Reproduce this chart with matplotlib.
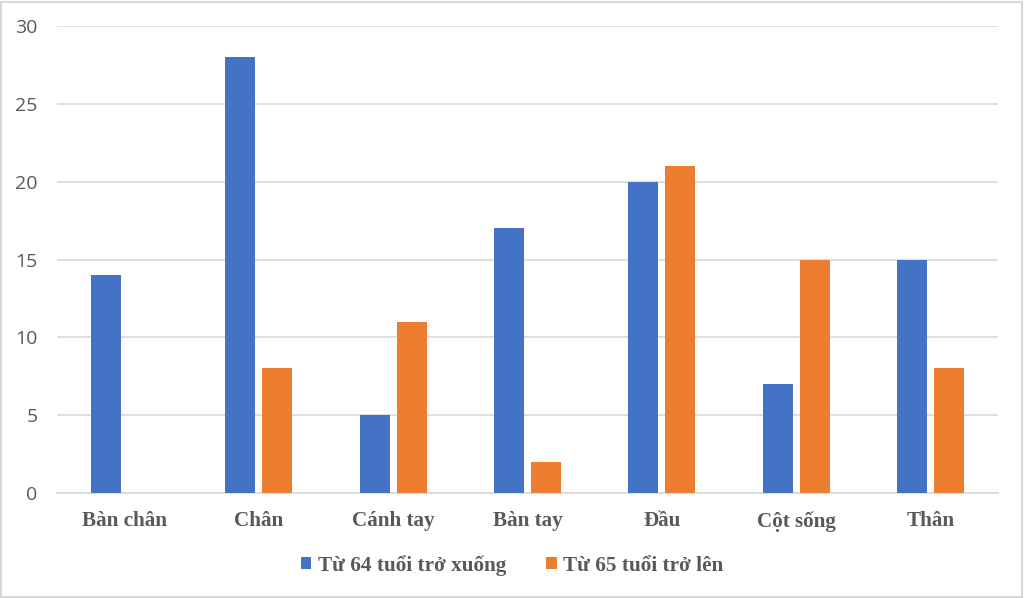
import numpy as np
import matplotlib.pyplot as plt
from matplotlib.patches import Rectangle

categories = ['Bàn chân', 'Chân', 'Cánh tay', 'Bàn tay', 'Đầu', 'Cột sống', 'Thân']
young = [14, 28, 5, 17, 20, 7, 15]
old = [0, 8, 11, 2, 21, 15, 8]
series_names = ['Từ 64 tuổi trở xuống', 'Từ 65 tuổi trở lên']

blue = '#4472c4'
orange = '#ed7d31'
grey_text = '#595959'
grid_col = '#d9d9d9'


def main():
    fig = plt.figure(figsize=(10.24, 5.98), dpi=100)
    ax = fig.add_axes([0.0557, 0.1756, 0.9189, 0.7809])

    x = np.arange(len(categories))
    w = 0.223
    gap = 0.052
    ax.bar(x - (w + gap) / 2, young, w, color=blue, label=series_names[0], zorder=3)
    ax.bar(x + (w + gap) / 2, old, w, color=orange, label=series_names[1], zorder=3)

    ax.set_xlim(-0.5, len(categories) - 0.5)
    ax.set_ylim(0, 30)
    ax.set_yticks(range(0, 31, 5))
    ax.yaxis.grid(True, color=grid_col, linewidth=1.2, zorder=0)
    ax.set_axisbelow(True)
    for s in ['top', 'right', 'left']:
        ax.spines[s].set_visible(False)
    ax.spines['bottom'].set_color(grid_col)
    ax.spines['bottom'].set_linewidth(1.2)
    ax.tick_params(axis='both', length=0)
    ax.tick_params(axis='y', labelsize=14, labelcolor=grey_text, pad=14)

    ax.set_xticks(x)
    ax.set_xticklabels(categories, family='Liberation Serif', fontweight='bold',
                       fontsize=15.2, color=grey_text)
    ax.tick_params(axis='x', pad=13)
    for lbl in ax.get_yticklabels():
        lbl.set_family('Open Sans')

    leg = fig.legend(loc='center', bbox_to_anchor=(0.5, 0.055), ncol=2, frameon=False,
                     handlelength=0.5, handleheight=0.5, handletextpad=0.3,
                     columnspacing=1.9,
                     prop={'family': 'Liberation Serif', 'weight': 'bold', 'size': 15.3})
    for t in leg.get_texts():
        t.set_color(grey_text)

    fig.patches.append(Rectangle((0.001, 0.002), 0.997, 0.995, transform=fig.transFigure,
                                 fill=False, edgecolor='#d9d9d9', linewidth=1.5))

    fig.savefig('out.png', dpi=100)


main()
